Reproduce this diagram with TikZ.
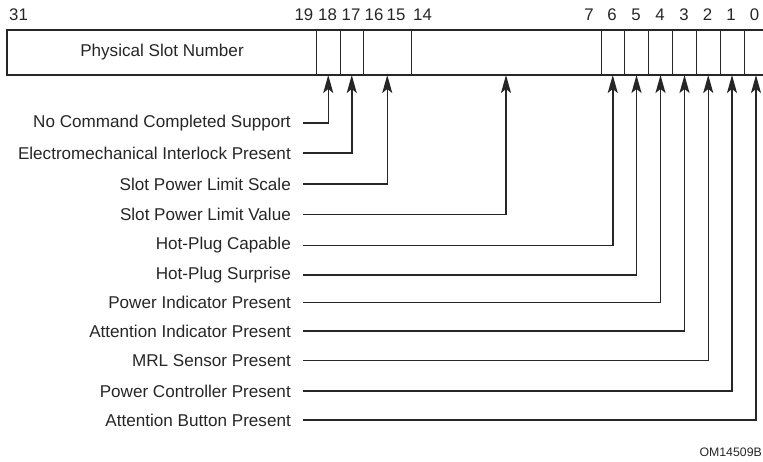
\documentclass[tikz,border=0pt]{standalone}
\usepackage{fontspec}
\setmainfont{Liberation Sans}
\usetikzlibrary{arrows.meta}
\begin{document}
\begin{tikzpicture}[x=1pt,y=-1pt,
  lbl/.style={anchor=east,inner sep=0pt,font=\fontsize{17.1}{20}\selectfont,text=black!85},
  bitnum/.style={inner sep=0pt,font=\fontsize{16.8}{20}\selectfont,text=black!85},
  fieldbox/.style={draw=black!85,line width=1pt,inner sep=0pt,minimum height=44pt,
     font=\fontsize{17.1}{20}\selectfont,text=black!85},
  conn/.style={draw=black!85,line width=1.5pt,
     -{Stealth[length=18pt,width=10pt,inset=4pt]}},
]
\useasboundingbox (0,0) rectangle (763,461);
% fields
\newcommand{\regfield}[4]{%
  \node[fieldbox,minimum width={#3-#2},anchor=north west] (#1) at (#2,30) {#4};}
\regfield{psn}{7}{316}{Physical Slot Number}
\regfield{f18}{316}{339.5}{}
\regfield{f17}{339.5}{363}{}
\regfield{f16}{363}{410.5}{}
\regfield{f14}{410.5}{600.5}{}
\regfield{f6}{600.5}{624}{}
\regfield{f5}{624}{648}{}
\regfield{f4}{648}{672}{}
\regfield{f3}{672}{696}{}
\regfield{f2}{696}{719.5}{}
\regfield{f1}{719.5}{743.5}{}
\regfield{f0}{743.5}{767.5}{}
\draw[draw=black!85,line width=2pt] (psn.north west) rectangle (f0.south east);
% bit numbers
\node[bitnum,anchor=west] (n31) at (9,15) {31};
\node[bitnum,anchor=east] (n19) at (313.5,15) {19};
\node[bitnum] (n18) at (327.5,15) {18};
\node[bitnum] (n17) at (351,15) {17};
\node[bitnum] (n16) at (374,15) {16};
\node[bitnum] (n15) at (396,15) {15};
\node[bitnum,anchor=west] (n14) at (413,15) {14};
\node[bitnum,anchor=east] (n7) at (594,15) {7};
\node[bitnum] (n6) at (612,15) {6};
\node[bitnum] (n5) at (636,15) {5};
\node[bitnum] (n4) at (660,15) {4};
\node[bitnum] (n3) at (684,15) {3};
\node[bitnum] (n2) at (707.5,15) {2};
\node[bitnum] (n1) at (731,15) {1};
\node[bitnum] (n0) at (754.5,15) {0};
% labels
\node[lbl] (l18) at (291,123) {No Command Completed Support};
\node[lbl] (l17) at (291,153) {Electromechanical Interlock Present};
\node[lbl] (l16) at (291,184) {Slot Power Limit Scale};
\node[lbl] (l14) at (291,214.5) {Slot Power Limit Value};
\node[lbl] (l6) at (291,245.5) {Hot-Plug Capable};
\node[lbl] (l5) at (291,275) {Hot-Plug Surprise};
\node[lbl] (l4) at (291,302.5) {Power Indicator Present};
\node[lbl] (l3) at (291,331) {Attention Indicator Present};
\node[lbl] (l2) at (291,360.5) {MRL Sensor Present};
\node[lbl] (l1) at (291,391) {Power Controller Present};
\node[lbl] (l0) at (291,420) {Attention Button Present};
% connectors
\foreach \a/\b in {l18/f18,l17/f17,l16/f16,l14/f14,l6/f6,l5/f5,l4/f4,l3/f3,l2/f2,l1/f1,l0/f0}{
  \draw[conn] ([xshift=12pt]\a.east) -| (\b.south);
}
\node[anchor=east,inner sep=0pt,font=\fontsize{12.3}{14}\selectfont,text=black!85] (om) at (762,452) {OM14509B};
\end{tikzpicture}
\end{document}
